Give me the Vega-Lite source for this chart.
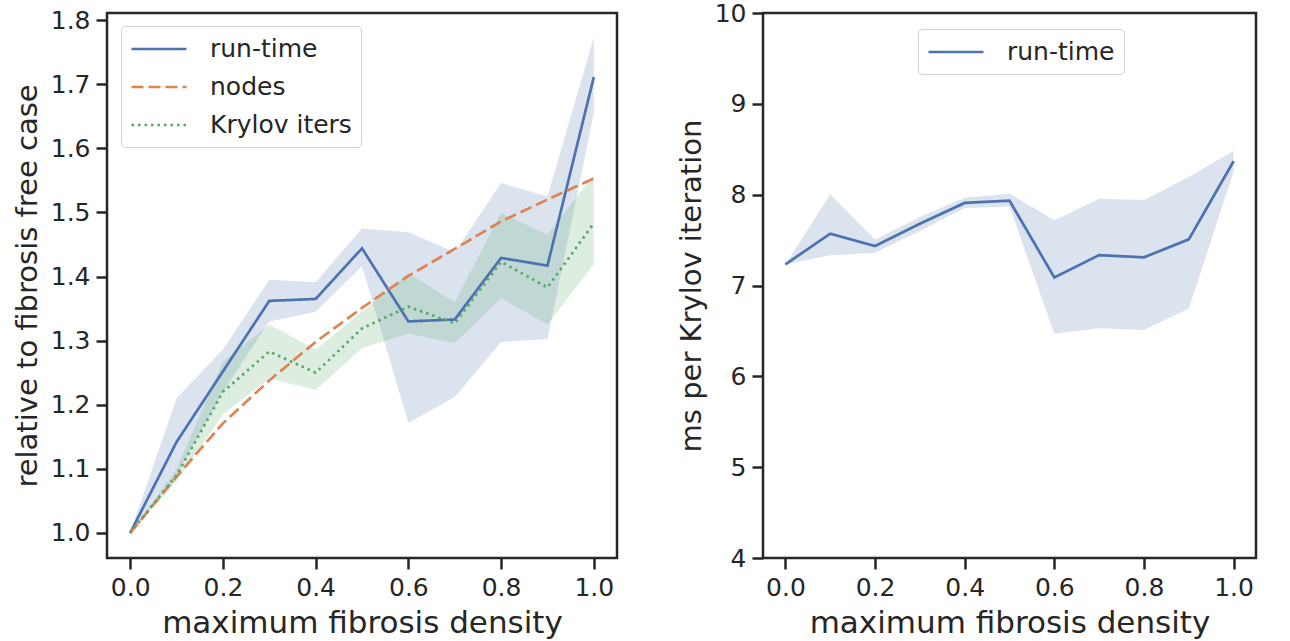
{
  "$schema": "https://vega.github.io/schema/vega-lite/v6.json",
  "padding": {"left": 11, "top": -1, "right": 5, "bottom": 0},
  "background": "white",
  "spacing": 56,
  "config": {
    "font": "DejaVu Sans",
    "view": {"stroke": "#262626", "strokeWidth": 2.5},
    "axis": {
      "grid": false,
      "domain": false,
      "tickColor": "#262626",
      "tickWidth": 2.5,
      "tickSize": 11,
      "labelFont": "DejaVu Sans",
      "labelFontSize": 25,
      "labelColor": "#262626",
      "labelPadding": 6,
      "titleFont": "DejaVu Sans",
      "titleFontWeight": "normal",
      "titleColor": "#262626"
    },
    "axisX": {"titleFontSize": 31},
    "axisY": {"titleFontSize": 29},
    "legend": {
      "labelFont": "DejaVu Sans",
      "labelFontSize": 25,
      "labelColor": "#262626",
      "strokeColor": "#d0d0d0",
      "fillColor": "white",
      "cornerRadius": 4,
      "padding": 9,
      "symbolType": "M-1,0H3.4",
      "symbolStrokeWidth": 2.7,
      "symbolSize": 625,
      "labelOffset": 52,
      "rowPadding": 11,
      "title": null
    }
  },
  "datasets": {
    "left": [
      {"series": "run-time", "x": 0.0, "y": 1.0, "lo": 1.0, "hi": 1.0},
      {"series": "run-time", "x": 0.1, "y": 1.142, "lo": 1.09, "hi": 1.21},
      {"series": "run-time", "x": 0.2, "y": 1.252, "lo": 1.22, "hi": 1.286},
      {"series": "run-time", "x": 0.3, "y": 1.362, "lo": 1.33, "hi": 1.395},
      {"series": "run-time", "x": 0.4, "y": 1.365, "lo": 1.345, "hi": 1.391},
      {"series": "run-time", "x": 0.5, "y": 1.444, "lo": 1.416, "hi": 1.475},
      {"series": "run-time", "x": 0.6, "y": 1.33, "lo": 1.172, "hi": 1.469},
      {"series": "run-time", "x": 0.7, "y": 1.333, "lo": 1.212, "hi": 1.438},
      {"series": "run-time", "x": 0.8, "y": 1.429, "lo": 1.298, "hi": 1.546},
      {"series": "run-time", "x": 0.9, "y": 1.417, "lo": 1.302, "hi": 1.525},
      {"series": "run-time", "x": 1.0, "y": 1.711, "lo": 1.655, "hi": 1.773},
      {"series": "nodes", "x": 0.0, "y": 1.0},
      {"series": "nodes", "x": 0.1, "y": 1.088},
      {"series": "nodes", "x": 0.2, "y": 1.171},
      {"series": "nodes", "x": 0.3, "y": 1.238},
      {"series": "nodes", "x": 0.4, "y": 1.298},
      {"series": "nodes", "x": 0.5, "y": 1.351},
      {"series": "nodes", "x": 0.6, "y": 1.401},
      {"series": "nodes", "x": 0.7, "y": 1.443},
      {"series": "nodes", "x": 0.8, "y": 1.486},
      {"series": "nodes", "x": 0.9, "y": 1.52},
      {"series": "nodes", "x": 1.0, "y": 1.553},
      {"series": "Krylov iters", "x": 0.0, "y": 1.0, "lo": 1.0, "hi": 1.0},
      {"series": "Krylov iters", "x": 0.1, "y": 1.09, "lo": 1.08, "hi": 1.1},
      {"series": "Krylov iters", "x": 0.2, "y": 1.22, "lo": 1.185, "hi": 1.267},
      {"series": "Krylov iters", "x": 0.3, "y": 1.283, "lo": 1.241, "hi": 1.325},
      {"series": "Krylov iters", "x": 0.4, "y": 1.25, "lo": 1.223, "hi": 1.286},
      {"series": "Krylov iters", "x": 0.5, "y": 1.319, "lo": 1.288, "hi": 1.345},
      {"series": "Krylov iters", "x": 0.6, "y": 1.353, "lo": 1.311, "hi": 1.405},
      {"series": "Krylov iters", "x": 0.7, "y": 1.327, "lo": 1.296, "hi": 1.36},
      {"series": "Krylov iters", "x": 0.8, "y": 1.423, "lo": 1.366, "hi": 1.499},
      {"series": "Krylov iters", "x": 0.9, "y": 1.383, "lo": 1.325, "hi": 1.465},
      {"series": "Krylov iters", "x": 1.0, "y": 1.483, "lo": 1.419, "hi": 1.559}
    ],
    "right": [
      {"series": "run-time", "x": 0.0, "y": 7.233, "lo": 7.233, "hi": 7.233},
      {"series": "run-time", "x": 0.1, "y": 7.57, "lo": 7.332, "hi": 8.004},
      {"series": "run-time", "x": 0.2, "y": 7.434, "lo": 7.36, "hi": 7.504},
      {"series": "run-time", "x": 0.3, "y": 7.68, "lo": 7.6, "hi": 7.754},
      {"series": "run-time", "x": 0.4, "y": 7.909, "lo": 7.853, "hi": 7.967},
      {"series": "run-time", "x": 0.5, "y": 7.934, "lo": 7.87, "hi": 8.011},
      {"series": "run-time", "x": 0.6, "y": 7.089, "lo": 6.468, "hi": 7.718},
      {"series": "run-time", "x": 0.7, "y": 7.335, "lo": 6.53, "hi": 7.956},
      {"series": "run-time", "x": 0.8, "y": 7.31, "lo": 6.51, "hi": 7.94},
      {"series": "run-time", "x": 0.9, "y": 7.508, "lo": 6.746, "hi": 8.195},
      {"series": "run-time", "x": 1.0, "y": 8.368, "lo": 8.25, "hi": 8.48}
    ]
  },
  "hconcat": [
    {
      "width": 510,
      "height": 545,
      "data": {"name": "left"},
      "encoding": {
        "x": {"field": "x", "type": "quantitative", "scale": {"domain": [-0.05, 1.05], "nice": false},
          "axis": {"values": [0, 0.2, 0.4, 0.6, 0.8, 1.0], "format": ".1f", "title": "maximum fibrosis density", "titlePadding": 8}},
        "color": {"field": "series", "type": "nominal", "scale": {"domain": ["run-time", "nodes", "Krylov iters"], "range": ["#4C72B0", "#DD8452", "#55A868"]},
          "legend": {"orient": "none", "legendX": 14, "legendY": 13}}
      },
      "layer": [
        {
          "transform": [{"filter": "datum.series !== 'nodes'"}],
          "mark": {"type": "area", "fillOpacity": 0.2},
          "encoding": {
            "y": {"field": "lo", "type": "quantitative", "scale": {"domain": [0.961, 1.811], "nice": false, "zero": false},
              "axis": {"values": [1.0, 1.1, 1.2, 1.3, 1.4, 1.5, 1.6, 1.7, 1.8], "format": ".1f", "title": "relative to fibrosis free case", "titlePadding": 8}},
            "y2": {"field": "hi"}
          }
        },
        {
          "mark": {"type": "line", "strokeWidth": 2.7},
          "encoding": {
            "y": {"field": "y", "type": "quantitative"},
            "strokeDash": {"field": "series", "type": "nominal", "scale": {"domain": ["run-time", "nodes", "Krylov iters"], "range": [[1, 0], [12, 5], [2.5, 4]]},
              "legend": {"orient": "none", "legendX": 14, "legendY": 13}}
          }
        }
      ]
    },
    {
      "width": 493,
      "height": 545,
      "data": {"name": "right"},
      "encoding": {
        "x": {"field": "x", "type": "quantitative", "scale": {"domain": [-0.05, 1.05], "nice": false},
          "axis": {"values": [0, 0.2, 0.4, 0.6, 0.8, 1.0], "format": ".1f", "title": "maximum fibrosis density", "titlePadding": 8}}
      },
      "layer": [
        {
          "mark": {"type": "area", "fillOpacity": 0.2, "color": "#4C72B0"},
          "encoding": {
            "y": {"field": "lo", "type": "quantitative", "scale": {"domain": [4, 10], "nice": false, "zero": false},
              "axis": {"values": [4, 5, 6, 7, 8, 9, 10], "format": "d", "title": "ms per Krylov iteration", "titlePadding": 8}},
            "y2": {"field": "hi"}
          }
        },
        {
          "mark": {"type": "line", "strokeWidth": 2.7},
          "encoding": {
            "y": {"field": "y", "type": "quantitative"},
            "color": {"field": "series", "type": "nominal", "scale": {"domain": ["run-time"], "range": ["#4C72B0"]},
              "legend": {"orient": "none", "legendX": 155, "legendY": 16}}
          }
        }
      ]
    }
  ],
  "resolve": {"scale": {"color": "independent", "strokeDash": "independent"}}
}
